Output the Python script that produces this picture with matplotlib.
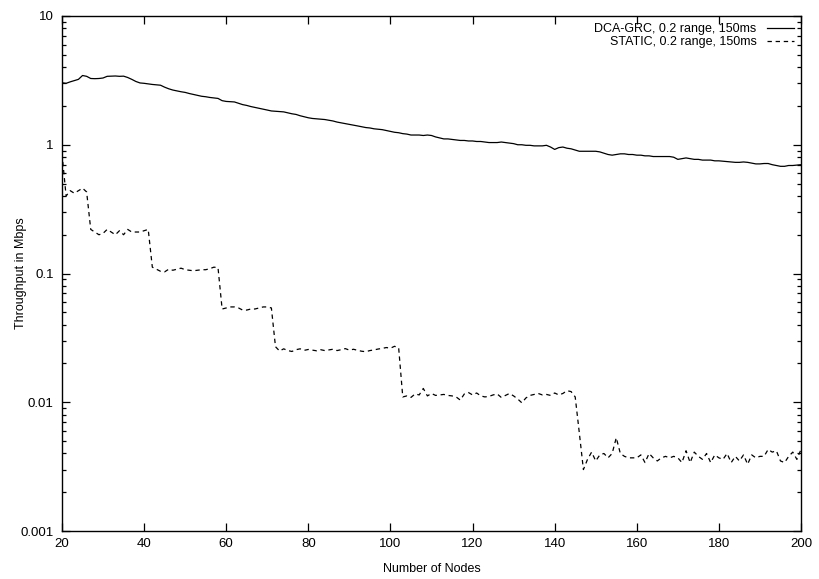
import matplotlib
matplotlib.use("Agg")
import matplotlib.pyplot as plt
from matplotlib.ticker import FixedLocator, LogLocator, FuncFormatter, NullFormatter

# Number of nodes in the network
nodes = list(range(20, 201))

# Throughput (Mbps) with dynamic channel allocation
dca_grc = [
    3.03, 3.00, 3.08, 3.15, 3.22, 3.45, 3.40, 3.27, 3.26, 3.27,
    3.30, 3.40, 3.41, 3.42, 3.40, 3.41, 3.33, 3.22, 3.10, 3.02,
    3.00, 2.97, 2.94, 2.92, 2.90, 2.80, 2.72, 2.66, 2.62, 2.58,
    2.55, 2.50, 2.46, 2.42, 2.38, 2.36, 2.33, 2.31, 2.29, 2.20,
    2.17, 2.16, 2.15, 2.10, 2.05, 2.02, 1.98, 1.95, 1.92, 1.89,
    1.86, 1.83, 1.82, 1.81, 1.80, 1.77, 1.74, 1.72, 1.68, 1.65,
    1.62, 1.60, 1.59, 1.58, 1.57, 1.55, 1.53, 1.50, 1.48, 1.46,
    1.44, 1.42, 1.40, 1.38, 1.36, 1.35, 1.33, 1.32, 1.31, 1.29,
    1.27, 1.25, 1.24, 1.22, 1.21, 1.19, 1.19, 1.19, 1.18, 1.19,
    1.18, 1.15, 1.13, 1.11, 1.11, 1.10, 1.09, 1.08, 1.08, 1.07,
    1.07, 1.06, 1.06, 1.05, 1.04, 1.04, 1.04, 1.05, 1.04, 1.03,
    1.02, 1.00, 1.00, 0.99, 0.99, 0.98, 0.98, 0.98, 0.99, 0.96,
    0.92, 0.95, 0.96, 0.94, 0.93, 0.91, 0.89, 0.89, 0.89, 0.89,
    0.89, 0.88, 0.86, 0.84, 0.83, 0.84, 0.85, 0.85, 0.84, 0.84,
    0.83, 0.83, 0.82, 0.82, 0.81, 0.81, 0.81, 0.81, 0.81, 0.80,
    0.77, 0.78, 0.79, 0.78, 0.77, 0.77, 0.76, 0.76, 0.76, 0.75,
    0.75, 0.745, 0.74, 0.735, 0.73, 0.73, 0.735, 0.73, 0.72, 0.71,
    0.71, 0.715, 0.715, 0.70, 0.69, 0.68, 0.68, 0.69, 0.69, 0.695,
    0.70,
]

# Throughput (Mbps) with static channel allocation
static = [
    0.85, 0.40, 0.44, 0.42, 0.44, 0.46, 0.43, 0.22, 0.21, 0.20,
    0.205, 0.22, 0.21, 0.20, 0.215, 0.20, 0.22, 0.21, 0.21, 0.21,
    0.215, 0.22, 0.112, 0.108, 0.104, 0.103, 0.108, 0.106, 0.108, 0.110,
    0.107, 0.106, 0.105, 0.106, 0.107, 0.107, 0.109, 0.112, 0.111, 0.053,
    0.054, 0.055, 0.055, 0.054, 0.052, 0.052, 0.053, 0.053, 0.054, 0.055,
    0.055, 0.054, 0.0270, 0.0250, 0.0260, 0.0252, 0.0248, 0.0256, 0.0260, 0.0253,
    0.0257, 0.0254, 0.0251, 0.0256, 0.0252, 0.0255, 0.0258, 0.0252, 0.0256, 0.0261,
    0.0254, 0.0258, 0.0253, 0.0249, 0.0247, 0.0252, 0.0255, 0.0259, 0.0262, 0.0266,
    0.0263, 0.0272, 0.0265, 0.0110, 0.0112, 0.0109, 0.0116, 0.0114, 0.0128, 0.0112,
    0.0117, 0.0113, 0.0114, 0.0115, 0.0113, 0.0112, 0.0110, 0.0104, 0.0116, 0.0119,
    0.0114, 0.0118, 0.0112, 0.0110, 0.0111, 0.0114, 0.0116, 0.0109, 0.0113, 0.0117,
    0.0112, 0.0106, 0.0099, 0.0108, 0.0113, 0.0115, 0.0117, 0.0114, 0.0115, 0.0113,
    0.0118, 0.0114, 0.0117, 0.0123, 0.0121, 0.0110, 0.0058, 0.0030, 0.0036, 0.0041,
    0.0035, 0.0039, 0.0040, 0.0037, 0.0040, 0.0053, 0.0040, 0.0038, 0.0037, 0.0037,
    0.0037, 0.0039, 0.0034, 0.0040, 0.0037, 0.0035, 0.0037, 0.0038, 0.0037, 0.0038,
    0.0037, 0.0034, 0.0042, 0.0034, 0.0041, 0.0038, 0.0036, 0.0040, 0.0034, 0.0039,
    0.0037, 0.0036, 0.0040, 0.0034, 0.0038, 0.0035, 0.0039, 0.0033, 0.0039, 0.0037,
    0.0038, 0.0038, 0.0043, 0.0041, 0.0042, 0.0035, 0.0034, 0.0038, 0.0041, 0.0036,
    0.0043,
]

x_ticks = [20, 40, 60, 80, 100, 120, 140, 160, 180, 200]
y_ticks = [0.001, 0.01, 0.1, 1, 10]

series_labels = ["DCA-GRC, 0.2 range, 150ms", "STATIC, 0.2 range, 150ms"]

plt.rcParams["font.family"] = ["Liberation Sans", "DejaVu Sans"]
plt.rcParams["font.size"] = 9

fig = plt.figure(figsize=(8.2, 5.79), dpi=100)
ax = fig.add_axes([62 / 820, 1 - 531 / 579, (801 - 62) / 820, (531 - 16) / 579])

ax.plot(nodes, dca_grc, color="black", lw=0.9, label=series_labels[0])
ax.plot(nodes, static, color="black", lw=0.9, dashes=(3.5, 3), label=series_labels[1])

ax.set_yscale("log")
ax.set_xlim(20, 200)
ax.set_ylim(0.001, 10)

ax.xaxis.set_major_locator(FixedLocator(x_ticks))
ax.yaxis.set_major_locator(FixedLocator(y_ticks))
ax.yaxis.set_minor_locator(LogLocator(base=10, subs=range(2, 10)))
ax.yaxis.set_major_formatter(FuncFormatter(lambda v, _: f"{v:g}"))
ax.yaxis.set_minor_formatter(NullFormatter())

ax.tick_params(which="both", direction="in", top=True, right=True, width=0.9, labelsize=9.5)
ax.tick_params(which="major", length=6)
ax.tick_params(axis="y", which="major", pad=6)
ax.tick_params(axis="x", which="major", pad=5)
ax.tick_params(which="minor", length=3)
for s in ax.spines.values():
    s.set_linewidth(1.0)

ax.set_xlabel("Number of Nodes", fontsize=9)
ax.xaxis.set_label_coords(0.5, -0.062)
ax.set_ylabel("Throughput in Mbps", fontsize=9)
ax.yaxis.set_label_coords(-0.048, 0.5)

leg = ax.legend(loc="upper right", frameon=False, markerfirst=False,
                fontsize=9, handlelength=2.2, handletextpad=0.8,
                labelspacing=0.1, borderaxespad=0.15)

fig.savefig("out.png", dpi=100)
